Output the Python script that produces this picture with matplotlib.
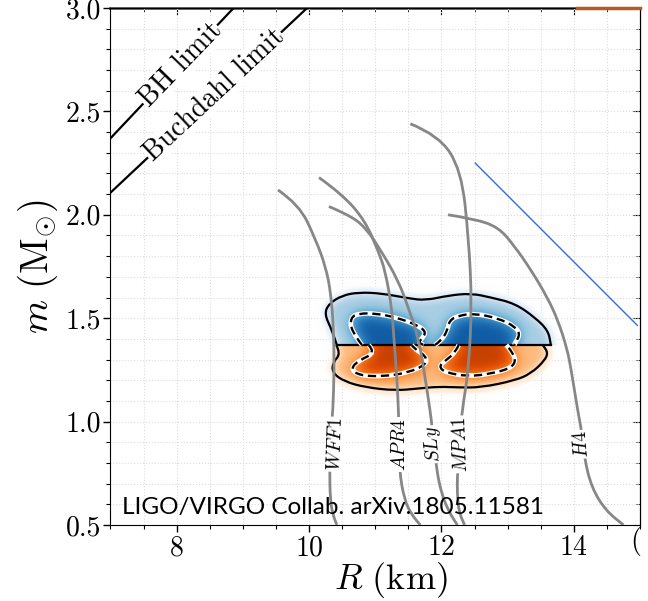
import numpy as np
import matplotlib.pyplot as plt
from matplotlib.path import Path
from matplotlib.patches import PathPatch
from matplotlib.ticker import MultipleLocator

plt.rcParams['font.family'] = 'serif'
plt.rcParams['font.serif'] = ['cmr10']
plt.rcParams['mathtext.fontset'] = 'cm'
plt.rcParams['axes.formatter.use_mathtext'] = True

# mass-radius curves (R in km, m in Msun)
wff1_R = [9.53, 9.85, 10.10, 10.25, 10.33, 10.37, 10.38, 10.36, 10.33, 10.31, 10.32, 10.36, 10.42]
wff1_m = [2.12, 2.05, 1.88, 1.75, 1.62, 1.45, 1.25, 1.05, 0.95, 0.77, 0.62, 0.55, 0.50]
apr4_R = [10.15, 10.50, 10.85, 11.05, 11.15, 11.25, 11.28, 11.33, 11.35, 11.36, 11.36, 11.44, 11.55, 11.68]
apr4_m = [2.18, 2.10, 1.97, 1.82, 1.73, 1.55, 1.41, 1.20, 1.05, 0.95, 0.77, 0.62, 0.55, 0.50]
sly_R = [10.30, 10.60, 10.85, 11.10, 11.35, 11.50, 11.65, 11.75, 11.83, 11.86, 11.92, 12.00, 12.12, 12.24]
sly_m = [2.04, 2.00, 1.94, 1.82, 1.68, 1.55, 1.41, 1.22, 1.05, 0.97, 0.78, 0.65, 0.56, 0.50]
mpa1_R = [11.53, 11.96, 12.30, 12.41, 12.46, 12.41, 12.31, 12.29, 12.24, 12.24, 12.28, 12.35]
mpa1_m = [2.44, 2.385, 2.215, 1.89, 1.57, 1.25, 1.05, 0.95, 0.76, 0.62, 0.55, 0.50]
h4_R = [12.10, 12.50, 12.86, 13.10, 13.36, 13.60, 13.76, 13.90, 13.96, 14.06, 14.12, 14.16, 14.27, 14.48, 14.75]
h4_m = [2.00, 1.98, 1.94, 1.85, 1.73, 1.60, 1.49, 1.35, 1.25, 1.05, 0.95, 0.82, 0.68, 0.57, 0.50]

eos_names = ['WFF1', 'APR4', 'SLy', 'MPA1', 'H4']
label_R = [10.40, 11.37, 11.87, 12.30, 14.12]
label_m = [0.89, 0.89, 0.89, 0.89, 0.89]
label_rot = [88, 90, 96, 92, 95]

# limit lines
bh_R = [7.0, 8.86]
bh_m = [2.37, 3.0]
buch_R = [7.0, 9.97]
buch_m = [2.107, 3.0]
blue_line_R = [12.51, 14.96]
blue_line_m = [2.25, 1.465]

# posterior contours (heavier star above split, lighter below)
split_m = 1.37
up_outer_R = [10.42, 10.35, 10.23, 10.30, 10.50, 10.75, 11.10, 11.50, 11.76, 12.11, 12.45, 12.75, 13.11, 13.41, 13.61, 13.65, 13.65]
up_outer_m = [1.37, 1.44, 1.52, 1.57, 1.61, 1.625, 1.62, 1.596, 1.586, 1.61, 1.62, 1.60, 1.571, 1.504, 1.441, 1.378, 1.37]
up_in1_R = [10.80, 10.63, 10.63, 10.75, 11.01, 11.31, 11.61, 11.77, 11.71, 11.65, 11.73]
up_in1_m = [1.37, 1.441, 1.504, 1.523, 1.523, 1.504, 1.470, 1.436, 1.402, 1.383, 1.37]
up_in2_R = [11.90, 12.00, 12.09, 12.12, 12.26, 12.51, 12.86, 13.11, 13.19, 13.11, 13.10]
up_in2_m = [1.37, 1.392, 1.441, 1.489, 1.513, 1.523, 1.499, 1.460, 1.422, 1.378, 1.37]
lo_outer_R = [10.41, 10.48, 10.36, 10.35, 10.53, 10.86, 11.31, 11.65, 11.96, 12.26, 12.60, 13.11, 13.35, 13.56, 13.61, 13.53]
lo_outer_m = [1.37, 1.329, 1.286, 1.237, 1.194, 1.165, 1.150, 1.160, 1.169, 1.165, 1.165, 1.199, 1.232, 1.295, 1.334, 1.37]
lo_in1_R = [10.90, 11.01, 10.75, 10.63, 10.75, 11.13, 11.50, 11.77, 11.77, 11.61, 11.55]
lo_in1_m = [1.37, 1.334, 1.295, 1.257, 1.223, 1.218, 1.237, 1.276, 1.315, 1.349, 1.37]
lo_in2_R = [12.26, 12.21, 12.06, 11.96, 12.06, 12.41, 12.75, 13.04, 13.13, 13.05, 12.98]
lo_in2_m = [1.37, 1.334, 1.295, 1.266, 1.237, 1.218, 1.232, 1.257, 1.295, 1.344, 1.37]

fig = plt.figure(figsize=(6.48, 6.01), dpi=100)
ax = fig.add_axes([0.1705, 0.1265, 0.8172, 0.8602])


def curve(R, m):
    # quadratic bezier through midpoints, the read points act as control points
    P = np.column_stack([R, m])
    verts = [P[0]]
    codes = [Path.MOVETO]
    for i in range(1, len(P) - 1):
        verts += [P[i], (P[i] + P[i + 1]) / 2]
        codes += [Path.CURVE3, Path.CURVE3]
    verts.append(P[-1])
    codes.append(Path.LINETO)
    return Path(verts, codes)


# shaded densities built from the contour outlines
gR = np.linspace(9.6, 14.2, 460)
gm = np.linspace(1.0, 1.8, 260)
RR, MM = np.meshgrid(gR, gm)
pts = np.column_stack([RR.ravel(), MM.ravel()])


def inside(R, m):
    poly = curve(R, m).to_polygons(closed_only=True)[0]
    return Path(poly).contains_points(pts).reshape(RR.shape).astype(float)


def smooth(a, s):
    x = np.arange(-3 * s, 3 * s + 1)
    k = np.exp(-0.5 * (x / s) ** 2)
    k /= k.sum()
    a = np.apply_along_axis(lambda r: np.convolve(r, k, mode='same'), 1, a)
    a = np.apply_along_axis(lambda c: np.convolve(c, k, mode='same'), 0, a)
    return a


isplit = np.searchsorted(gm, split_m)


def shade(outer, inners, upper, cmap, gain):
    o = inside(*outer)
    i = sum(inside(*p) for p in inners)
    if upper:
        o[:isplit] = o[isplit]
        i[:isplit] = i[isplit]
    else:
        o[isplit:] = o[isplit - 1]
        i[isplit:] = i[isplit - 1]
    f = gain * (0.30 * smooth(o, 7) + 0.42 * smooth(i, 11))
    rgba = plt.get_cmap(cmap)(np.clip(f, 0, 1))
    rgba[..., 3] = np.clip(f / 0.05, 0, 1)
    if upper:
        rgba[:isplit, :, 3] = 0
    else:
        rgba[isplit:, :, 3] = 0
    ax.imshow(rgba, extent=[gR[0], gR[-1], gm[0], gm[-1]], origin='lower',
              aspect='auto', interpolation='bilinear', zorder=2)


shade((up_outer_R, up_outer_m), [(up_in1_R, up_in1_m), (up_in2_R, up_in2_m)], True, 'Blues', 1.15)
shade((lo_outer_R, lo_outer_m), [(lo_in1_R, lo_in1_m), (lo_in2_R, lo_in2_m)], False, 'Oranges', 1.1)

for R, m in [(up_outer_R, up_outer_m), (lo_outer_R, lo_outer_m)]:
    ax.add_patch(PathPatch(curve(R, m), fill=False, edgecolor='black', lw=1.6, zorder=3))
ax.plot([up_outer_R[0], up_outer_R[-1]], [split_m, split_m], color='black', lw=1.6, zorder=3)
for R, m in [(up_in1_R, up_in1_m), (up_in2_R, up_in2_m), (lo_in1_R, lo_in1_m), (lo_in2_R, lo_in2_m)]:
    ax.add_patch(PathPatch(curve(R, m), fill=False, edgecolor='white', lw=3.4, zorder=3))
    ax.add_patch(PathPatch(curve(R, m), fill=False, edgecolor='black', lw=1.7,
                           linestyle=(0, (3.5, 2)), zorder=3))

# EOS curves
eos_R = [wff1_R, apr4_R, sly_R, mpa1_R, h4_R]
eos_m = [wff1_m, apr4_m, sly_m, mpa1_m, h4_m]
for R, m in zip(eos_R, eos_m):
    ax.add_patch(PathPatch(curve(R, m), fill=False, edgecolor='#878787', lw=2, zorder=4))
for name, x, y, rot in zip(eos_names, label_R, label_m, label_rot):
    ax.text(x, y, r'$\mathit{%s}$' % name, rotation=rot, ha='center', va='center',
            fontsize=14, zorder=5,
            bbox=dict(facecolor='white', edgecolor='none', pad=0.5))

# limits
ax.plot(bh_R, bh_m, color='black', lw=1.6, zorder=3)
ax.plot(buch_R, buch_m, color='black', lw=1.6, zorder=3)
ax.text(8.06, 2.725, 'BH limit', rotation=46, ha='center', va='center', fontsize=20,
        zorder=5, bbox=dict(facecolor='white', edgecolor='none', pad=0.3))
ax.text(8.57, 2.58, 'Buchdahl limit', rotation=43, ha='center', va='center', fontsize=20,
        zorder=5, bbox=dict(facecolor='white', edgecolor='none', pad=0.3))
ax.plot(blue_line_R, blue_line_m, color='#2f6fd6', lw=1, zorder=3)

ax.set_xlim(7, 15)
ax.set_ylim(0.5, 3.0)
ax.set_xticks([8, 10, 12, 14])
ax.xaxis.set_minor_locator(MultipleLocator(0.5))
ax.yaxis.set_major_locator(MultipleLocator(0.5))
ax.yaxis.set_minor_locator(MultipleLocator(0.1))
ax.yaxis.set_major_formatter(plt.FormatStrFormatter('%.1f'))
ax.tick_params(which='both', direction='out', labelsize=20, pad=2)
ax.tick_params(which='major', length=5, width=1)
ax.tick_params(which='minor', length=3, width=0.8)
ax.grid(which='both', color='#dcdcdc', ls=':', lw=0.8)
ax.set_axisbelow(True)

sx = ax.secondary_xaxis('top')
sx.set_xticks([8, 10, 12, 14])
sx.xaxis.set_minor_locator(MultipleLocator(0.5))
sx.tick_params(which='both', direction='in', labeltop=False)
sx.tick_params(which='major', length=5)
sx.tick_params(which='minor', length=3)
sx.spines['top'].set_color('#555555')
sx.spines['top'].set_linewidth(2)
sy = ax.secondary_yaxis('right')
sy.yaxis.set_major_locator(MultipleLocator(0.5))
sy.yaxis.set_minor_locator(MultipleLocator(0.1))
sy.tick_params(which='both', direction='in', labelright=False)
sy.tick_params(which='major', length=5)
sy.tick_params(which='minor', length=3)
ax.plot([14.05, 15.0], [3.0, 3.0], color='#b85a20', lw=2.5, zorder=6, clip_on=False)

ax.set_xlabel(r'$R\ (\mathrm{km})$', fontsize=26)
ax.xaxis.set_label_coords(0.53, -0.068)
ax.set_ylabel(r'$m\ (\mathrm{M}_{\odot})$', fontsize=28, labelpad=4)

ax.text(0.022, 0.021, 'LIGO/VIRGO Collab. arXiv.1805.11581', transform=ax.transAxes,
        family='Lato', fontsize=17.5, ha='left', va='baseline', zorder=6)
fig.text(636 / 648, 1 - 541 / 601, '(', fontsize=20, ha='center', va='center')

fig.savefig('out.png', dpi=100)
